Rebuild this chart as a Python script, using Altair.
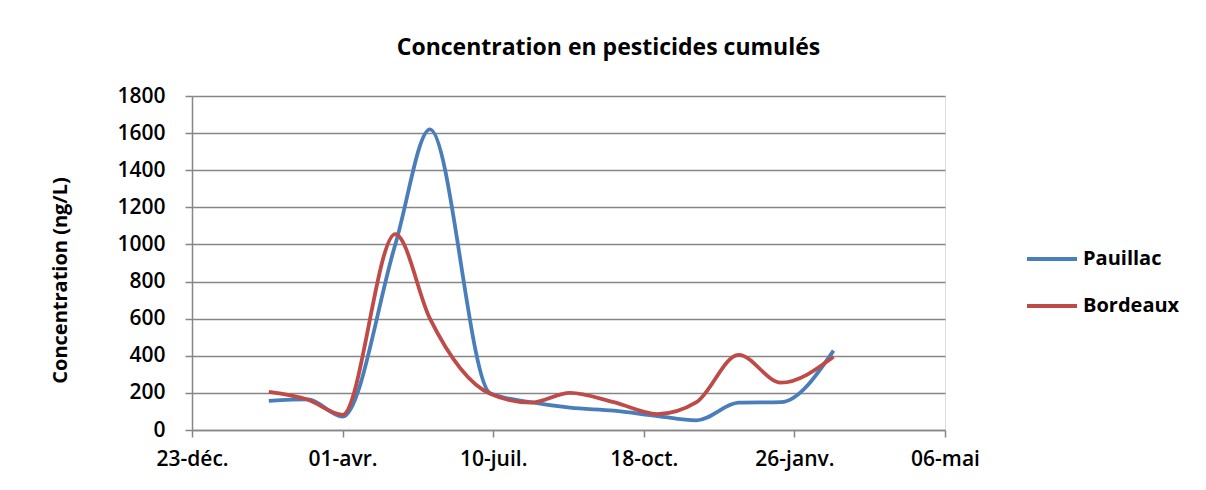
import altair as alt
import pandas as pd

dates = ["2008-02-12", "2008-03-09", "2008-04-01", "2008-05-06", "2008-05-29",
         "2008-07-08", "2008-08-04", "2008-08-30", "2008-09-28", "2008-10-27",
         "2008-11-22", "2008-12-20", "2009-01-17", "2009-02-21"]
pauillac = [157, 165, 72, 1000, 1620, 198, 150, 120, 104, 75, 52, 147, 150, 428]
bordeaux = [205, 163, 82, 1056, 600, 195, 147, 200, 150, 86, 150, 405, 255, 395]
series = ["Pauillac", "Bordeaux"]
colors = ["#4A7EBB", "#BE4B48"]
tick_dates = ["2007-12-23", "2008-04-01", "2008-07-10", "2008-10-18", "2009-01-26", "2009-05-06"]
y_ticks = [0, 200, 400, 600, 800, 1000, 1200, 1400, 1600, 1800]

df = pd.DataFrame({"date": dates, "Pauillac": pauillac, "Bordeaux": bordeaux})
long = df.melt(id_vars="date", var_name="site", value_name="conc")

def ms(d):
    return int(pd.Timestamp(d).value // 10**6)

tick_ms = [ms(d) for d in tick_dates]

FONT = "Open Sans"

label_expr = ("utcFormat(datum.value, '%d') + '-' + "
              "['janv.','févr.','mars','avr.','mai','juin','juil.','août','sept.','oct.','nov.','déc.']"
              "[utcmonth(datum.value)]")

chart = alt.Chart(long).mark_line(
    interpolate="monotone", strokeWidth=3.8
).encode(
    x=alt.X("date:T",
            scale=alt.Scale(type="utc", domain=[tick_ms[0], tick_ms[-1]]),
            axis=alt.Axis(values=tick_ms, labelExpr=label_expr, title=None,
                          grid=False, tickSize=7, labelPadding=11,
                          labelFlush=False, labelOverlap=False,
                          labelFontSize=21, labelFont=FONT, labelFontWeight=600,
                          labelColor="#000000",
                          domainColor="#868686", tickColor="#868686",
                          domainWidth=1.5, tickWidth=1.5)),
    y=alt.Y("conc:Q",
            scale=alt.Scale(domain=[0, 1800], nice=False),
            axis=alt.Axis(values=y_ticks, format="d", title="Concentration (ng/L)",
                          titleFont=FONT, titleFontSize=20, titleFontWeight="bold",
                          titleColor="#000000",
                          titleAngle=-90, titleX=-132, titleY=184,
                          titleAlign="center", titleBaseline="middle",
                          labelFontSize=21, labelFont=FONT, labelFontWeight=600,
                          labelColor="#000000",
                          tickSize=7, labelPadding=20,
                          grid=True, gridColor="#868686", gridWidth=1.5,
                          domainColor="#868686", tickColor="#868686",
                          domainWidth=1.5, tickWidth=1.5)),
    color=alt.Color("site:N",
                    scale=alt.Scale(domain=series, range=colors),
                    legend=alt.Legend(title=None, orient="none", legendX=833, legendY=136,
                                      symbolType="stroke", symbolSize=2500,
                                      symbolStrokeWidth=3.8, labelFont=FONT,
                                      labelFontSize=20, labelFontWeight="bold",
                                      labelColor="#000000", rowPadding=10,
                                      labelOffset=4)),
).properties(
    width=753, height=334,
    title=alt.TitleParams("Concentration en pesticides cumulés", font=FONT,
                          fontSize=23, fontWeight="bold", color="#000000",
                          anchor="middle", dx=40, offset=25),
    autosize=alt.AutoSizeParams(type="none"),
    padding={"left": 184, "top": 88, "right": 253, "bottom": 52},
).configure_view(stroke=None).configure(background="white")

chart.save("out.html", embed_options={"renderer": "svg", "actions": False})
